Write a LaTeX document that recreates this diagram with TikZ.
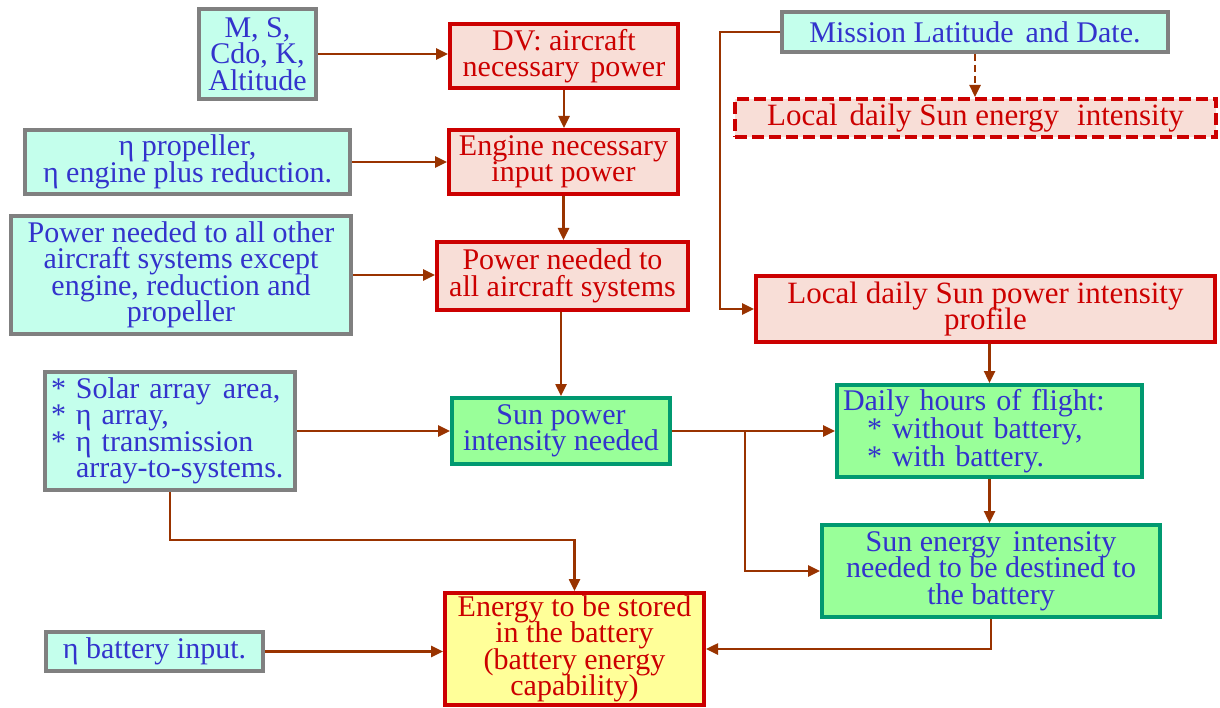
\documentclass[tikz,border=0pt]{standalone}
\usepackage{fontspec}
\setmainfont{Liberation Serif}
\newfontfamily\chartfont{Liberation Serif}
\usetikzlibrary{arrows.meta}
\definecolor{txtblue}{RGB}{51,51,204}
\definecolor{txtred}{RGB}{204,0,0}
\definecolor{inFill}{RGB}{196,255,236}
\definecolor{inDraw}{RGB}{128,128,128}
\definecolor{calcFill}{RGB}{248,222,215}
\definecolor{calcDraw}{RGB}{204,0,0}
\definecolor{sunFill}{RGB}{153,255,153}
\definecolor{sunDraw}{RGB}{0,153,112}
\definecolor{resFill}{RGB}{255,255,153}
\definecolor{link}{RGB}{153,51,0}
\lineskiplimit=-100pt
\newcommand\gap[1]{\hspace{#1pt}}
\tikzset{
  box/.style={rectangle, line width=4pt, inner sep=0pt, align=center,
    font=\chartfont\fontsize{30}{26.5}\selectfont},
  inbox/.style={box, draw=inDraw, fill=inFill, text=txtblue},
  calcbox/.style={box, draw=calcDraw, fill=calcFill, text=txtred},
  sunbox/.style={box, draw=sunDraw, fill=sunFill, text=txtblue},
  resbox/.style={box, draw=calcDraw, fill=resFill, text=txtred},
  dims/.style 2 args={minimum width=#1-4, minimum height=#2-4},
  arr/.style={draw=link, line width=2.5pt, -{Triangle[length=12pt,width=11pt]}},
  dasharr/.style={arr, dash pattern=on 7pt off 4pt},
}
\begin{document}
\begin{tikzpicture}[x=1pt, y=-1pt]
\useasboundingbox (0,0) rectangle (1220,708);

% left column: inputs
\node[inbox, dims={121}{94}] (ms) at (257.5,54) {M, S,\\ Cdo, K,\\ Altitude};
\node[inbox, dims={329}{68}] (etap) at (187.5,162) {η propeller,\\ η engine plus reduction.};
\node[inbox, dims={344}{122}] (pother) at (181,275)
  {Power needed to all other\\ aircraft systems except\\ engine, reduction and\\ propeller};
\node[inbox, align=left, inner xsep=6pt, text width=238pt, minimum height=118pt] (solar) at (170,431)
  {{*} Solar array\gap{12}area,\\ {*} η array,\\ {*} η transmission\\ \phantom{* }array-to-systems.};
\node[inbox, dims={221}{43}] (etab) at (154.5,651.5) {η battery input.};

% middle column: power chain
\node[calcbox, dims={232}{68}] (dv) at (564,56) {DV: aircraft\\ necessary\gap{11}power};
\node[calcbox, dims={233}{68}] (eng) at (563.5,162) {Engine necessary\\ input power};
\node[calcbox, dims={255}{72}] (pall) at (562.5,276) {Power needed to\\ all aircraft systems};
\node[sunbox, dims={222}{70}] (sunp) at (561,431) {Sun power\\ intensity needed};
\node[resbox, dims={263}{116}] (energy) at (574.5,649)
  {Energy to be stored\\ in the battery\\ (battery energy\\ capability)};

% right column: mission and sun
\node[inbox, dims={390}{44}] (mis) at (975,32) {Mission Latitude\gap{12}and Date.};
\node[box, draw=calcDraw, fill=calcFill, text=txtred, dash pattern=on 12pt off 5pt,
  dims={485}{42}, font=\chartfont\fontsize{31}{26}\selectfont] (loce) at (975.5,118)
  {Local\gap{12}daily Sun energy\gap{18}intensity};
\node[calcbox, dims={463}{70}, font=\chartfont\fontsize{31}{26}\selectfont] (locp) at (985.5,309)
  {Local daily Sun power intensity\\ profile};
\node[sunbox, align=left, inner xsep=6pt, text width=293pt, minimum height=92pt] (daily) at (989.5,431)
  {Daily hours of flight:\\ \hspace*{24pt}{*} without battery,\\ \hspace*{24pt}{*} with battery.};
\node[sunbox, dims={342}{96}] (sune) at (991,571)
  {Sun energy\gap{12}intensity\\ needed to be destined to\\ the battery};

% connectors
\draw[arr] (ms.east) -- (ms.east -| dv.west);
\draw[arr] (dv.south) -- (dv.south |- eng.north);
\draw[arr] (etap.east) -- (etap.east -| eng.west);
\draw[arr] (eng.south) -- (eng.south |- pall.north);
\draw[arr] (pother.east) -- (pother.east -| pall.west);
\draw[arr] (sunp.north |- pall.south) -- (sunp.north);
\draw[arr] (solar.east) -- (solar.east -| sunp.west);
\draw[arr] (sunp.east) -- (sunp.east -| daily.west);
\coordinate (split) at (745,431);
\draw[arr] (split) |- (sune.west);
\draw[arr] (mis.west) -- ++(-60,0) |- (locp.west);
\draw[dasharr] (mis.south) -- (mis.south |- loce.north);
\draw[arr] (daily.north |- locp.south) -- (daily.north);
\draw[arr] (daily.south) -- (daily.south |- sune.north);
\draw[arr] (solar.south) -- ++(0,48) -| (energy.north);
\draw[arr] (etab.east) -- (etab.east -| energy.west);
\draw[arr] (sune.south) |- (energy.east);
\end{tikzpicture}
\end{document}
